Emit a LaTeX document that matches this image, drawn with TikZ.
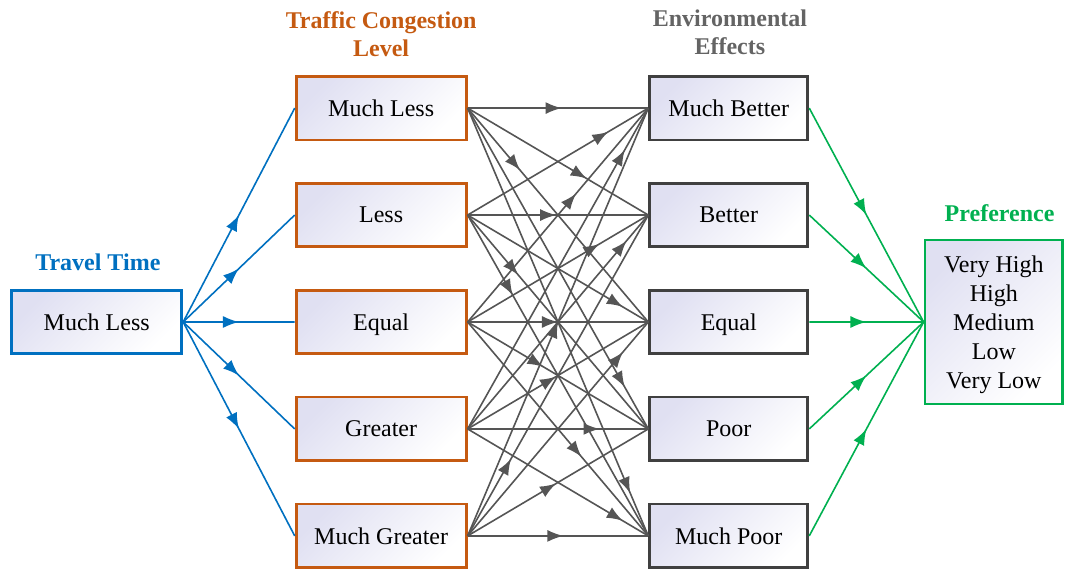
\documentclass[tikz,border=0pt]{standalone}
\usepackage{fontspec}
\setmainfont{Liberation Serif}
\usetikzlibrary{arrows.meta, decorations.markings, positioning}
\definecolor{ttblue}{RGB}{0,112,192}
\definecolor{tcorange}{RGB}{197,90,17}
\definecolor{eegray}{RGB}{64,64,64}
\definecolor{eetitle}{RGB}{100,100,100}
\definecolor{lnkgray}{RGB}{85,85,85}
\definecolor{pfgreen}{RGB}{0,176,80}
\definecolor{boxfill}{RGB}{224,224,242}
\tikzset{
  lvl/.style={rectangle, line width=1.4pt, minimum width=2.99cm,
              minimum height=1.12cm, align=center, text depth=0pt,
              font=\fontsize{12}{14.5}\selectfont,
              top color=boxfill, bottom color=white, shading angle=45},
  ttl/.style={align=center, font=\fontsize{12}{14}\selectfont\bfseries},
  midarr/.style={postaction={decorate}, decoration={markings,
                 mark=at position #1 with {\arrow{Latex[length=8pt,width=6pt]}}}},
  lnk/.style={line width=0.8pt},
}

\begin{document}
\begin{tikzpicture}
  \useasboundingbox (0,0) rectangle (18.72,10.02);

  \node[lvl, draw=ttblue] (tt) at (1.70, 4.36) {Much Less};
  \foreach \lbl [count=\i] in {Much Less, Less, Equal, Greater, Much Greater}
    \node[lvl, draw=tcorange] (c\i) at (6.70, {8.12-1.88*(\i-1)}) {\lbl};
  \foreach \lbl [count=\i] in {Much Better, Better, Equal, Poor, Much Poor}
    \node[lvl, draw=eegray, minimum width=2.78cm] (e\i) at (12.81, {8.12-1.88*(\i-1)}) {\lbl};
  \node[lvl, draw=pfgreen, minimum width=2.42cm, minimum height=2.88cm] (pf) at (17.47, 4.36)
    {Very High\\High\\Medium\\Low\\Very Low};

  \node[ttl, text=ttblue] (ttt) at (1.72, 5.41) {Travel Time};
  \node[ttl, text=tcorange] (tct) at (6.70, 9.42) {Traffic Congestion\\Level};
  \node[ttl, text=eetitle] (eet) at (12.83, 9.45) {Environmental\\Effects};
  \node[ttl, text=pfgreen] (pft) at (17.57, 6.27) {Preference};

  \foreach \i in {1,...,5} {
    \draw[lnk, ttblue, midarr=0.5] (tt.east) -- (c\i.west);
    \draw[lnk, pfgreen, midarr=0.5] (e\i.east) -- (pf.west);
  }

  \foreach \i/\j/\p in {1/1/0.52, 1/2/0.66, 1/3/0.29, 1/4/0.87, 1/5/0.90,
                        2/1/0.78, 2/2/0.49, 2/3/0.86, 2/4/0.28, 2/5/0.25,
                        3/1/0.60, 3/2/0.73, 3/3/0.50, 3/4/0.42, 3/5/0.63,
                        4/1/0.87, 4/2/0.88, 4/3/0.49, 4/4/0.73, 4/5/0.86,
                        5/1/0.50, 5/2/0.24, 5/3/0.86, 5/4/0.49, 5/5/0.53}
    \draw[lnk, lnkgray, midarr=\p] (c\i.east) -- (e\j.west);
\end{tikzpicture}
\end{document}
